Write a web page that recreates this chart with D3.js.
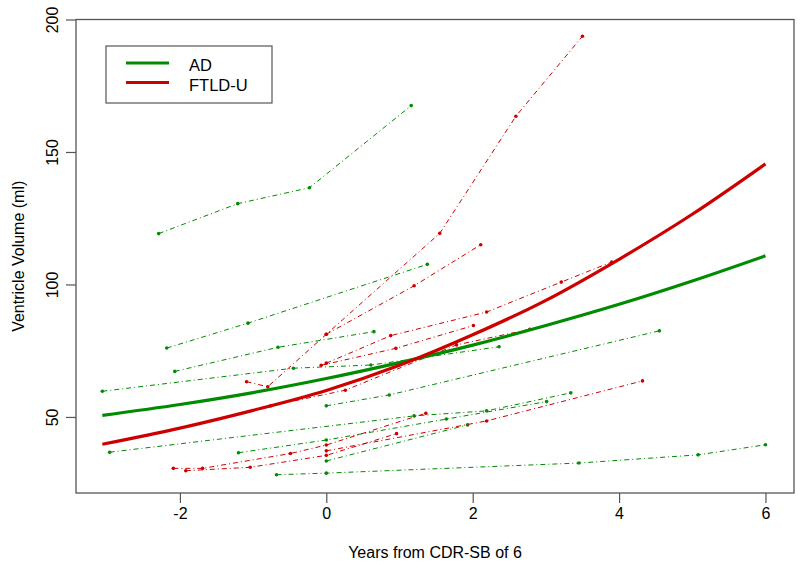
<!DOCTYPE html>
<html>
<head>
<meta charset="utf-8">
<script src="https://cdn.jsdelivr.net/npm/d3@7"></script>
<style>
  body { margin: 0; background: #fff; }
  text { font-family: "Liberation Sans", Arial, sans-serif; fill: #000; }
</style>
</head>
<body>
<div class="chart"></div>
<script>
// fitted group curves
const fitYears = [-3.06, -2, -1, 0, 1, 2, 3, 4, 5, 6];
const adFit = [50.6, 54.7, 59.2, 64.5, 70.5, 77.1, 84.5, 92.5, 101.3, 110.8];
const ftldFit = [39.7, 45.8, 52.5, 60.0, 69.5, 81.0, 94.0, 109.5, 126.5, 145.5];

// individual subjects: years from CDR-SB of 6, ventricle volume (ml)
const adYears = [
  [-2.29, -1.21, -0.23, 1.16],
  [-2.18, -1.07, 1.38],
  [-2.07, -0.66, 0.65],
  [-3.06, -0.45, 0.61, 2.36],
  [0, 0.86, 4.55],
  [-2.96, 1.2, 2.19, 3.34],
  [-1.2, 0, 1.64, 3.01],
  [0, 1.93],
  [-0.68, 0, 3.45, 5.08, 6.0]
];
const adVolumes = [
  [119.2, 130.5, 136.5, 167.5],
  [76.0, 85.4, 107.6],
  [67.2, 76.3, 82.2],
  [59.7, 68.4, 69.6, 76.5],
  [54.2, 58.3, 82.5],
  [36.7, 50.4, 52.3, 59.1],
  [36.5, 41.3, 49.2, 55.8],
  [33.4, 47.0],
  [28.2, 28.8, 32.6, 35.7, 39.5]
];
const ftldYears = [
  [-1.09, -0.8, 0, 1.55, 2.59, 3.5],
  [0, 1.2, 2.11],
  [0, 0.88, 2.19, 3.21, 3.9],
  [-0.07, 0.95, 2.01],
  [-0.76, 0.26, 1.78, 2.78],
  [-2.09, -1.69, -0.49, 0, 1.36],
  [0, 2.19, 4.32],
  [-1.92, -1.04, 0, 0.96]
];
const ftldVolumes = [
  [63.3, 61.4, 81.2, 119.3, 163.5, 193.7],
  [81.2, 99.5, 115.0],
  [70.3, 80.7, 89.6, 100.9, 108.5],
  [69.5, 75.9, 84.5],
  [54.2, 60.1, 77.2, 83.1],
  [30.6, 30.6, 36.2, 39.4, 51.4],
  [37.2, 48.5, 63.6],
  [29.7, 31.0, 35.5, 43.7]
];

const xTicks = [-2, 0, 2, 4, 6];
const yTicks = [50, 100, 150, 200];
const groups = ["AD", "FTLD-U"];

let dims = { height: 568, width: 800 };
let box = { left: 76, right: 794, top: 19.5, bottom: 493 };
const green = "#008b00";
const red = "#cd0000";

let svg = d3.select(".chart").append("svg")
  .attr("width", dims.width)
  .attr("height", dims.height);

let x = d3.scaleLinear().domain([-3.42, 6.39]).range([box.left, box.right]);
let y = d3.scaleLinear().domain([21.3, 200]).range([box.bottom, box.top]);

// subject trajectories
let drawSubjects = (years, vols, color) => {
  years.forEach((ts, i) => {
    let pts = ts.map((t, j) => [t, vols[i][j]]);
    svg.append("path")
      .datum(pts)
      .attr("fill", "none")
      .attr("stroke", color)
      .attr("stroke-width", 1)
      .attr("stroke-dasharray", "5,3,1,3")
      .attr("d", d3.line().x(d => x(d[0])).y(d => y(d[1])));
    svg.append("g").selectAll("circle")
      .data(pts)
      .join("circle")
      .attr("cx", d => x(d[0]))
      .attr("cy", d => y(d[1]))
      .attr("r", 1.8)
      .attr("fill", color);
  });
};
drawSubjects(adYears, adVolumes, green);
drawSubjects(ftldYears, ftldVolumes, red);

// group fits
let fitLine = d3.line().curve(d3.curveMonotoneX).x(d => x(d[0])).y(d => y(d[1]));
svg.append("path")
  .datum(fitYears.map((t, i) => [t, adFit[i]]))
  .attr("fill", "none").attr("stroke", green).attr("stroke-width", 3.2)
  .attr("d", fitLine);
svg.append("path")
  .datum(fitYears.map((t, i) => [t, ftldFit[i]]))
  .attr("fill", "none").attr("stroke", red).attr("stroke-width", 3.2)
  .attr("d", fitLine);

// frame and axes
svg.append("rect")
  .attr("x", box.left).attr("y", box.top)
  .attr("width", box.right - box.left).attr("height", box.bottom - box.top)
  .attr("fill", "none").attr("stroke", "#555").attr("stroke-width", 1.3);

let xAxis = svg.append("g")
  .attr("transform", `translate(0, ${box.bottom})`)
  .call(d3.axisBottom(x).tickValues(xTicks).tickSize(10).tickSizeOuter(0).tickFormat(d => d < 0 ? "-" + Math.abs(d) : d));
xAxis.select(".domain").remove();
xAxis.selectAll("line").attr("stroke", "#555").attr("stroke-width", 1.2);
xAxis.selectAll("text").attr("font-size", 16).attr("y", 26).attr("dy", 0).attr("fill", "#000");

let yAxis = svg.append("g")
  .attr("transform", `translate(${box.left}, 0)`)
  .call(d3.axisLeft(y).tickValues(yTicks).tickSize(10).tickSizeOuter(0));
yAxis.select(".domain").remove();
yAxis.selectAll("line").attr("stroke", "#555").attr("stroke-width", 1.2);
yAxis.selectAll("text")
  .attr("font-size", 16)
  .attr("x", null).attr("dy", null)
  .attr("text-anchor", "middle")
  .attr("transform", "translate(-18, 0) rotate(-90)")
  .attr("fill", "#000");

svg.append("text")
  .attr("x", (box.left + box.right) / 2)
  .attr("y", 558)
  .attr("text-anchor", "middle")
  .style("font-size", "16px")
  .text("Years from CDR-SB of 6");

svg.append("text")
  .attr("transform", `translate(24, ${(box.top + box.bottom) / 2}) rotate(-90)`)
  .attr("text-anchor", "middle")
  .style("font-size", "16px")
  .text("Ventricle Volume (ml)");

// legend
let legend = svg.append("g").attr("transform", `translate(106, 46)`);
legend.append("rect")
  .attr("width", 166).attr("height", 57)
  .attr("fill", "#fff").attr("stroke", "#555").attr("stroke-width", 1.2);
groups.forEach((g, i) => {
  legend.append("line")
    .attr("x1", 20).attr("x2", 63)
    .attr("y1", 17 + i * 19.5).attr("y2", 17 + i * 19.5)
    .attr("stroke", i === 0 ? green : red).attr("stroke-width", 3);
  legend.append("text")
    .attr("x", 83).attr("y", 25 + i * 19.5)
    .style("font-size", "16.5px")
    .text(g);
});
</script>
</body>
</html>
